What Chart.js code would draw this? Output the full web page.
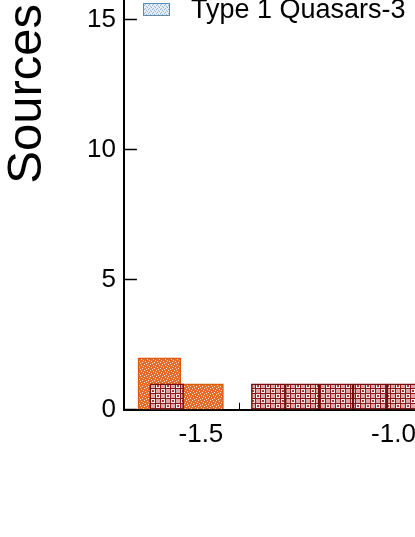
<!DOCTYPE html>
<html>
<head>
<meta charset="utf-8">
<script src="https://cdn.jsdelivr.net/npm/chart.js@4.4.1/dist/chart.umd.min.js"></script>
<style>
  html, body { margin: 0; padding: 0; background: #fff; overflow: hidden; }
  body { width: 415px; height: 537px; position: relative; }
  #histChart { position: absolute; left: 0; top: -272px; }
  #legend { position: absolute; left: 143px; top: -78px; font-family: "Liberation Sans", Arial, sans-serif; font-size: 27px; color: #000; }
  .item { display: flex; align-items: center; height: 27px; margin-bottom: 10px; white-space: nowrap; }
  .item canvas { margin-right: 21px; }
</style>
</head>
<body>
<canvas id="histChart" width="636" height="747"></canvas>
<div id="legend"></div>
<script>
// series labels (legend order)
const seriesNames = ["Type 1 Quasars-1", "Type 1 Quasars-2", "Type 1 Quasars-3"];

// bin centres and counts (visible part only)
const redBins = [-1.589, -1.501, -1.413, -1.325, -1.237, -1.149, -1.061, -0.973];
const redCounts = [1, 0, 0, 1, 1, 1, 1, 1];

const orangeBins = [-1.608, -1.497, -1.386, -1.275, -1.164, -1.053, -0.942];
const orangeCounts = [2, 1, 0, 0, 0, 0, 0];

const blueBins = [-1.65, -1.55, -1.45, -1.35, -1.25, -1.15, -1.05, -0.95];
const blueCounts = [0, 0, 0, 0, 0, 0, 0, 0];

const xTickLabels = ["-1.5", "-1.0", "-0.5"];

function makePattern(kind) {
    const c = document.createElement("canvas");
    const g = c.getContext("2d");
    if (kind === "red") {
        c.width = 10; c.height = 10;
        g.fillStyle = "#8a1818"; g.fillRect(0, 0, 10, 10);
        // light cells in a checker, every other one with a dark dot
        g.fillStyle = "#fbeeee"; g.fillRect(1, 1, 4, 4); g.fillRect(6, 6, 4, 4);
        g.fillStyle = "#dca8a8"; g.fillRect(6, 1, 4, 4); g.fillRect(1, 6, 4, 4);
        g.fillStyle = "#a33b3b"; g.fillRect(2, 2, 2, 2); g.fillRect(7, 7, 2, 2);
    } else if (kind === "orange") {
        c.width = 6; c.height = 6;
        g.fillStyle = "#e66a28"; g.fillRect(0, 0, 6, 6);
        g.fillStyle = "#fbe3d4";
        [[0, 0], [3, 1], [1, 3], [4, 4], [5, 2], [2, 5]].forEach(p => g.fillRect(p[0], p[1], 1, 1));
    } else {
        c.width = 4; c.height = 4;
        g.fillStyle = "#e6eef6"; g.fillRect(0, 0, 4, 4);
        g.fillStyle = "#8fb0cf";
        [[0, 0], [2, 1], [1, 2], [3, 3]].forEach(p => g.fillRect(p[0], p[1], 1, 1));
    }
    return g.createPattern(c, "repeat");
}

function toPoints(bins, counts) {
    return bins.map((b, i) => ({ x: b, y: counts[i] }));
}

Chart.defaults.font.family = "'Liberation Sans', Arial, sans-serif";
Chart.defaults.color = "#000";

const xMin = -1.7, xMax = -0.5;
const hiddenX = { type: "linear", display: false, offset: false, min: xMin, max: xMax, ticks: { stepSize: 1 } };

const barCommon = { yAxisID: "y", grouped: false, barPercentage: 1, categoryPercentage: 1, borderWidth: 1.5 };

const datasets = [
    Object.assign({ label: seriesNames[1], data: toPoints(redBins, redCounts), xAxisID: "xr",
        backgroundColor: makePattern("red"), borderColor: "#761010" }, barCommon),
    Object.assign({ label: seriesNames[0], data: toPoints(orangeBins, orangeCounts), xAxisID: "xo",
        backgroundColor: makePattern("orange"), borderColor: "#de5a12" }, barCommon),
    Object.assign({ label: seriesNames[2], data: toPoints(blueBins, blueCounts), xAxisID: "xb",
        backgroundColor: makePattern("blue"), borderColor: "#5b8bb3" }, barCommon)
];

const chart = new Chart(document.getElementById("histChart").getContext("2d"), {
    type: "bar",
    data: { datasets: datasets },
    options: {
        responsive: false,
        animation: false,
        devicePixelRatio: 1,
        layout: { padding: { top: 50, right: 50, bottom: 9, left: 0 } },
        plugins: { legend: { display: false }, tooltip: { enabled: false } },
        scales: {
            x: {
                type: "linear", position: "bottom", offset: false, min: xMin, max: xMax,
                border: { display: true, color: "#000", width: 2 },
                grid: { offset: false, drawOnChartArea: false, tickLength: -7, tickColor: "#000", tickWidth: 1 },
                ticks: {
                    stepSize: 0.1, autoSkip: false, maxRotation: 0, padding: 16,
                    font: { size: 26 },
                    callback: v => {
                        const s = v.toFixed(1);
                        return xTickLabels.includes(s) ? s : "";
                    }
                }
            },
            xr: hiddenX, xo: hiddenX, xb: hiddenX,
            y: {
                type: "linear", min: 0, max: 24.3,
                border: { display: true, color: "#000", width: 2 },
                grid: { drawOnChartArea: false, tickLength: -13, tickColor: "#000", tickWidth: 1.5 },
                ticks: { stepSize: 5, includeBounds: false, padding: 21, font: { size: 26 } },
                title: { display: true, text: "Sources", font: { size: 49, lineHeight: 1 }, padding: { top: 3, bottom: 14 } }
            }
        }
    }
});

// legend drawn as html, in series order
const legend = document.getElementById("legend");
[1, 0, 2].forEach(k => {
    const ds = datasets[k];
    const row = document.createElement("div");
    row.className = "item";
    const sw = document.createElement("canvas");
    sw.width = 27; sw.height = 13;
    const g = sw.getContext("2d");
    g.fillStyle = makePattern(k === 0 ? "red" : k === 1 ? "orange" : "blue");
    g.fillRect(0, 0, 27, 13);
    g.strokeStyle = ds.borderColor; g.lineWidth = 1;
    g.strokeRect(0.5, 0.5, 26, 12);
    const t = document.createElement("span");
    t.textContent = ds.label;
    row.appendChild(sw); row.appendChild(t);
    legend.appendChild(row);
});
</script>
</body>
</html>
